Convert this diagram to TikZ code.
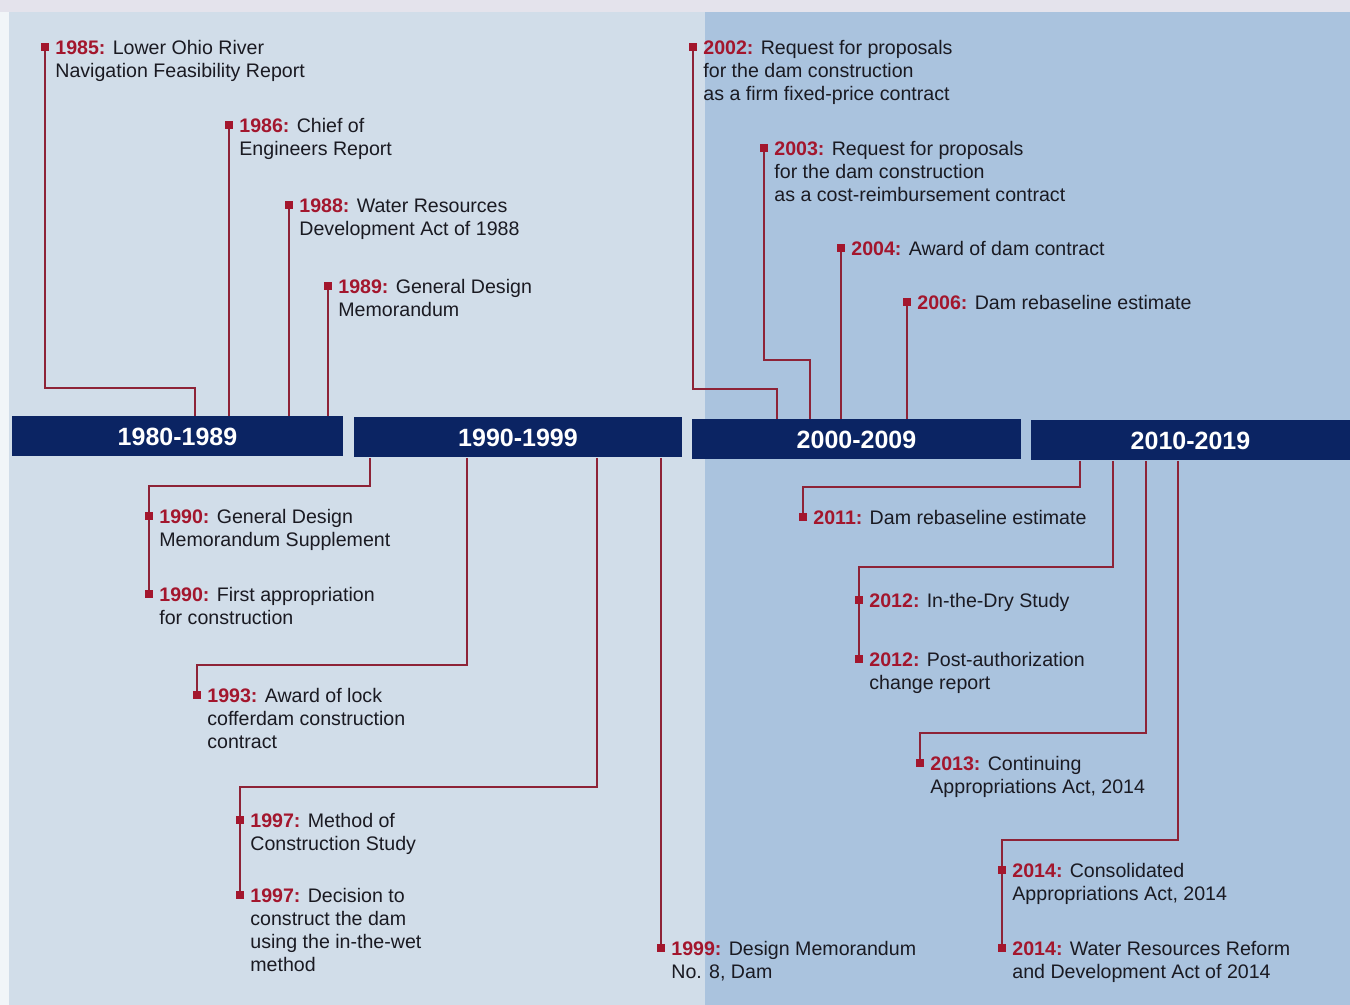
\documentclass[tikz,border=0pt]{standalone}
\usepackage{fontspec}
\setmainfont{Liberation Sans}
\usepackage{xcolor}
\usetikzlibrary{positioning}
\pgfdeclarelayer{wires}
\pgfsetlayers{wires,main}
\definecolor{navy}{HTML}{0B2463}
\definecolor{yearred}{HTML}{A3162D}
\definecolor{wire}{HTML}{8E2337}
\definecolor{ink}{HTML}{1A1A22}
\definecolor{paper}{HTML}{D1DDE9}
\definecolor{sky}{HTML}{AAC3DE}
\definecolor{topstrip}{HTML}{E4E3EC}
\newcommand{\yr}[1]{\textcolor{yearred}{\textbf{#1:}}}
\tikzset{
	decade/.style={fill=navy, text=white, font=\fontsize{12.5}{15}\selectfont\bfseries, minimum height=20pt, inner sep=0pt},
	evdot/.style={fill=yearred, inner sep=0pt, minimum size=3.6pt},
	evtext/.style={anchor=north west, align=left, inner sep=0pt, text=ink, font=\fontsize{9.8}{11.5}\selectfont},
	link/.style={draw=wire, line width=1pt},
}

\begin{document}
\begin{tikzpicture}[x=0.5pt,y=-0.5pt]
	\useasboundingbox (0,0) rectangle (1350,1005);
	\begin{pgfonlayer}{wires}
	\fill[paper] (0,0) rectangle (1350,1005);
	\fill[sky] (705,12) rectangle (1350,1005);
	\fill[topstrip] (0,0) rectangle (1350,12);
	\fill[white!70!paper] (0,12) rectangle (9,1005);
	\end{pgfonlayer}

	\node[decade, minimum width=165.5pt] (b1) at (177.5,436.5) {1980-1989};
	\node[decade, minimum width=164pt] (b2) at (518,437.5) {1990-1999};
	\node[decade, minimum width=164.5pt] (b3) at (856.5,439.5) {2000-2009};
	\node[decade, minimum width=159.5pt] (b4) at (1190.5,440.5) {2010-2019};

	\node[evdot] (m1) at (45,47) {};
	\node[evdot] (m2) at (229,125) {};
	\node[evdot] (m3) at (289,205) {};
	\node[evdot] (m4) at (328,286) {};
	\node[evdot] (m5) at (693,47) {};
	\node[evdot] (m6) at (764,148) {};
	\node[evdot] (m7) at (841,248) {};
	\node[evdot] (m8) at (907,302) {};
	\node[evdot] (m9) at (149,516) {};
	\node[evdot] (m10) at (149,594) {};
	\node[evdot] (m11) at (197,695) {};
	\node[evdot] (m12) at (240,820) {};
	\node[evdot] (m13) at (240,895) {};
	\node[evdot] (m14) at (661,948) {};
	\node[evdot] (m15) at (803,517) {};
	\node[evdot] (m16) at (859,600) {};
	\node[evdot] (m17) at (859,659) {};
	\node[evdot] (m18) at (920,763) {};
	\node[evdot] (m19) at (1002,870) {};
	\node[evdot] (m20) at (1002,948) {};

	\coordinate (j1) at (195,388);
	\coordinate (j5) at (777,389);
	\coordinate (j6) at (810,360);
	\coordinate (j9) at (370,486);
	\coordinate (j11) at (467,665);
	\coordinate (j12) at (597,787);
	\coordinate (j15) at (1080,487);
	\coordinate (j16) at (1113,567);
	\coordinate (j18) at (1146,733);
	\coordinate (j19) at (1178,840);

	\begin{pgfonlayer}{wires}
	\draw[link] (m1.center) |- (j1) -- (j1 |- b1.north);
	\draw[link] (m2.center) -- (m2 |- b1.north);
	\draw[link] (m3.center) -- (m3 |- b1.north);
	\draw[link] (m4.center) -- (m4 |- b1.north);
	\draw[link] (m5.center) |- (j5) -- (j5 |- b3.north);
	\draw[link] (m6.center) |- (j6) -- (j6 |- b3.north);
	\draw[link] (m7.center) -- (m7 |- b3.north);
	\draw[link] (m8.center) -- (m8 |- b3.north);
	\draw[link] (j9 |- b2.south) -- (j9) -| (m10.center);
	\draw[link] (j11 |- b2.south) -- (j11) -| (m11.center);
	\draw[link] (j12 |- b2.south) -- (j12) -| (m13.center);
	\draw[link] (m14 |- b2.south) -- (m14.center);
	\draw[link] (j15 |- b4.south) -- (j15) -| (m15.center);
	\draw[link] (j16 |- b4.south) -- (j16) -| (m17.center);
	\draw[link] (j18 |- b4.south) -- (j18) -| (m18.center);
	\draw[link] (j19 |- b4.south) -- (j19) -| (m20.center);
	\end{pgfonlayer}

	\node[evtext] (t1) at ([shift={(10,-7)}]m1) {\yr{1985} Lower Ohio River\\Navigation Feasibility Report};
	\node[evtext] (t2) at ([shift={(10,-7)}]m2) {\yr{1986} Chief of\\Engineers Report};
	\node[evtext] (t3) at ([shift={(10,-7)}]m3) {\yr{1988} Water Resources\\Development Act of 1988};
	\node[evtext] (t4) at ([shift={(10,-7)}]m4) {\yr{1989} General Design\\Memorandum};
	\node[evtext] (t5) at ([shift={(10,-7)}]m5) {\yr{2002} Request for proposals\\for the dam construction\\as a firm fixed-price contract};
	\node[evtext] (t6) at ([shift={(10,-7)}]m6) {\yr{2003} Request for proposals\\for the dam construction\\as a cost-reimbursement contract};
	\node[evtext] (t7) at ([shift={(10,-7)}]m7) {\yr{2004} Award of dam contract};
	\node[evtext] (t8) at ([shift={(10,-7)}]m8) {\yr{2006} Dam rebaseline estimate};
	\node[evtext] (t9) at ([shift={(10,-7)}]m9) {\yr{1990} General Design\\Memorandum Supplement};
	\node[evtext] (t10) at ([shift={(10,-7)}]m10) {\yr{1990} First appropriation\\for construction};
	\node[evtext] (t11) at ([shift={(10,-7)}]m11) {\yr{1993} Award of lock\\cofferdam construction\\contract};
	\node[evtext] (t12) at ([shift={(10,-7)}]m12) {\yr{1997} Method of\\Construction Study};
	\node[evtext] (t13) at ([shift={(10,-7)}]m13) {\yr{1997} Decision to\\construct the dam\\using the in-the-wet\\method};
	\node[evtext] (t14) at ([shift={(10,-7)}]m14) {\yr{1999} Design Memorandum\\No. 8, Dam};
	\node[evtext] (t15) at ([shift={(10,-7)}]m15) {\yr{2011} Dam rebaseline estimate};
	\node[evtext] (t16) at ([shift={(10,-7)}]m16) {\yr{2012} In-the-Dry Study};
	\node[evtext] (t17) at ([shift={(10,-7)}]m17) {\yr{2012} Post-authorization\\change report};
	\node[evtext] (t18) at ([shift={(10,-7)}]m18) {\yr{2013} Continuing\\Appropriations Act, 2014};
	\node[evtext] (t19) at ([shift={(10,-7)}]m19) {\yr{2014} Consolidated\\Appropriations Act, 2014};
	\node[evtext] (t20) at ([shift={(10,-7)}]m20) {\yr{2014} Water Resources Reform\\and Development Act of 2014};
\end{tikzpicture}
\end{document}
